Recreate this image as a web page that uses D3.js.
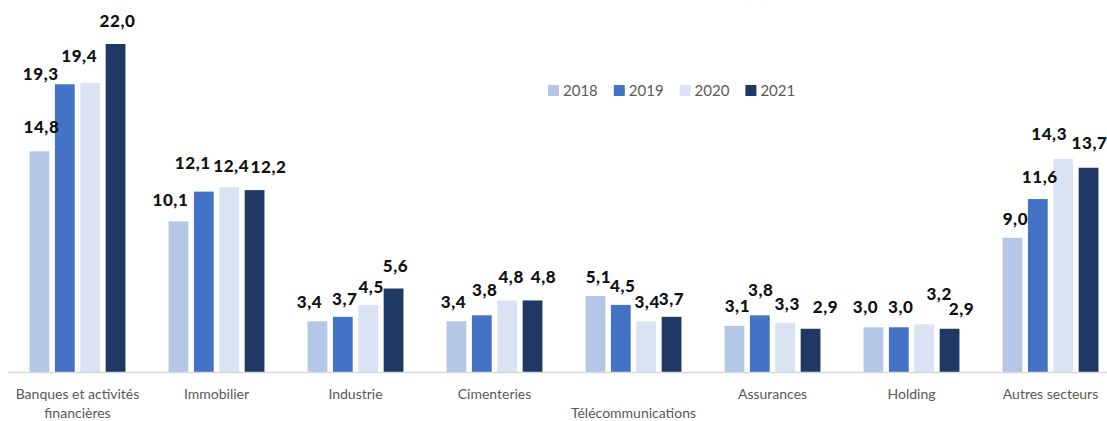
<!DOCTYPE html>
<html>
<head>
<meta charset="utf-8">
<script src="https://cdn.jsdelivr.net/npm/d3@7"></script>
<style>
  body { margin: 0; background: #fff; }
  svg { display: block; }
</style>
</head>
<body>
<div id="chart"></div>
<script>
// data
const sectors = ["Banques et activités financières", "Immobilier", "Industrie", "Cimenteries",
  "Télécommunications", "Assurances", "Holding", "Autres secteurs"];
const years = ["2018", "2019", "2020", "2021"];
const v2018 = [14.8, 10.1, 3.4, 3.4, 5.1, 3.1, 3.0, 9.0];
const v2019 = [19.3, 12.1, 3.7, 3.8, 4.5, 3.8, 3.0, 11.6];
const v2020 = [19.4, 12.4, 4.5, 4.8, 3.4, 3.3, 3.2, 14.3];
const v2021 = [22.0, 12.2, 5.6, 4.8, 3.7, 2.9, 2.9, 13.7];
const colors = ["#b4c7e7", "#4472c4", "#dae3f3", "#203864"];

// label nudges (manual, like the moved labels in the original) [dx, dy above bar top]
const nudge = {
  "0-0": [2, 18], "0-1": [-24, 4], "0-2": [-11, 21], "0-3": [2, 17],
  "1-0": [-8, 15], "1-1": [-11, 23], "1-2": [2, 15], "1-3": [14, 17],
  "2-0": [-8, 13], "2-1": [2, 12], "2-2": [3, 12], "2-3": [2, 17],
  "3-0": [-3, 13], "3-1": [3, 19], "3-2": [4, 17], "3-3": [11, 17],
  "4-0": [3, 13], "4-1": [2, 13], "4-2": [1, 13], "4-3": [0, 12],
  "5-0": [3, 14], "5-1": [1, 19], "5-2": [2, 13], "5-3": [15, 16],
  "6-0": [-8, 14], "6-1": [2, 14], "6-2": [15, 24], "6-3": [12, 14],
  "7-0": [3, 13], "7-1": [2, 16], "7-2": [-14, 19], "7-3": [1, 19]
};

const rows = sectors.map((s, i) => ({
  sector: s,
  values: [v2018[i], v2019[i], v2020[i], v2021[i]]
}));

const width = 1107, height = 421;
const svg = d3.select("#chart").append("svg")
  .attr("width", width).attr("height", height);

const x0 = d3.scaleBand().domain(sectors).range([8, 1120])
  .paddingInner(0.31).paddingOuter(0.155);
const x1 = d3.scaleBand().domain(years).range([0, x0.bandwidth()]).paddingInner(0.22);
const y = d3.scaleLinear().domain([0, 22]).range([372, 44]);

// title (cut off at the top in the original)
svg.append("text")
  .attr("x", 753).attr("y", -3)
  .attr("text-anchor", "middle")
  .attr("font-family", "Lato, sans-serif").attr("font-weight", 700)
  .attr("font-size", 20).attr("fill", "#203864")
  .text("(1)");

// bars
const groups = svg.selectAll("g.grp").data(rows).join("g")
  .attr("class", "grp")
  .attr("transform", d => `translate(${x0(d.sector)},0)`);

groups.selectAll("rect").data(d => d.values.map((v, j) => ({ v, year: years[j], j })))
  .join("rect")
  .attr("x", d => x1(d.year))
  .attr("y", d => y(d.v))
  .attr("width", x1.bandwidth())
  .attr("height", d => y(0) - y(d.v))
  .attr("fill", d => colors[d.j]);

// value labels
const fmt = v => v.toFixed(1).replace(".", ",");
groups.each(function(d, i) {
  d3.select(this).selectAll("text.val").data(d.values).join("text")
    .attr("class", "val")
    .attr("x", (v, j) => x1(years[j]) + x1.bandwidth() / 2 + nudge[i + "-" + j][0])
    .attr("y", (v, j) => y(v) - nudge[i + "-" + j][1])
    .attr("text-anchor", "middle")
    .attr("font-family", "Lato, sans-serif")
    .attr("font-weight", 900)
    .attr("font-size", 17)
    .attr("letter-spacing", 0.6)
    .attr("fill", "#111")
    .text(v => fmt(v));
});

// x axis line
svg.append("line")
  .attr("x1", 8).attr("x2", width)
  .attr("y1", y(0) + 0.5).attr("y2", y(0) + 0.5)
  .attr("stroke", "#d9d9d9").attr("stroke-width", 1.5);

// category labels
const catLines = {
  "Banques et activités financières": ["Banques et activités", "financières"],
  "Télécommunications": ["", "Télécommunications"]
};
sectors.forEach(s => {
  const lines = catLines[s] || [s];
  const t = svg.append("text")
    .attr("x", x0(s) + x0.bandwidth() / 2)
    .attr("text-anchor", "middle")
    .attr("font-family", "Lato, sans-serif")
    .attr("font-size", 14)
    .attr("fill", "#595959");
  lines.forEach((l, k) => {
    t.append("tspan").attr("x", x0(s) + x0.bandwidth() / 2)
      .attr("y", 399 + k * 19).text(l);
  });
});

// legend
const legend = svg.append("g").attr("transform", "translate(548,85)");
years.forEach((yr, j) => {
  const g = legend.append("g").attr("transform", `translate(${j * 65.8},0)`);
  g.append("rect").attr("width", 11).attr("height", 11).attr("fill", colors[j]);
  g.append("text").attr("x", 15).attr("y", 11)
    .attr("font-family", "Lato, sans-serif").attr("font-size", 15)
    .attr("fill", "#595959").text(yr);
});
</script>
</body>
</html>
